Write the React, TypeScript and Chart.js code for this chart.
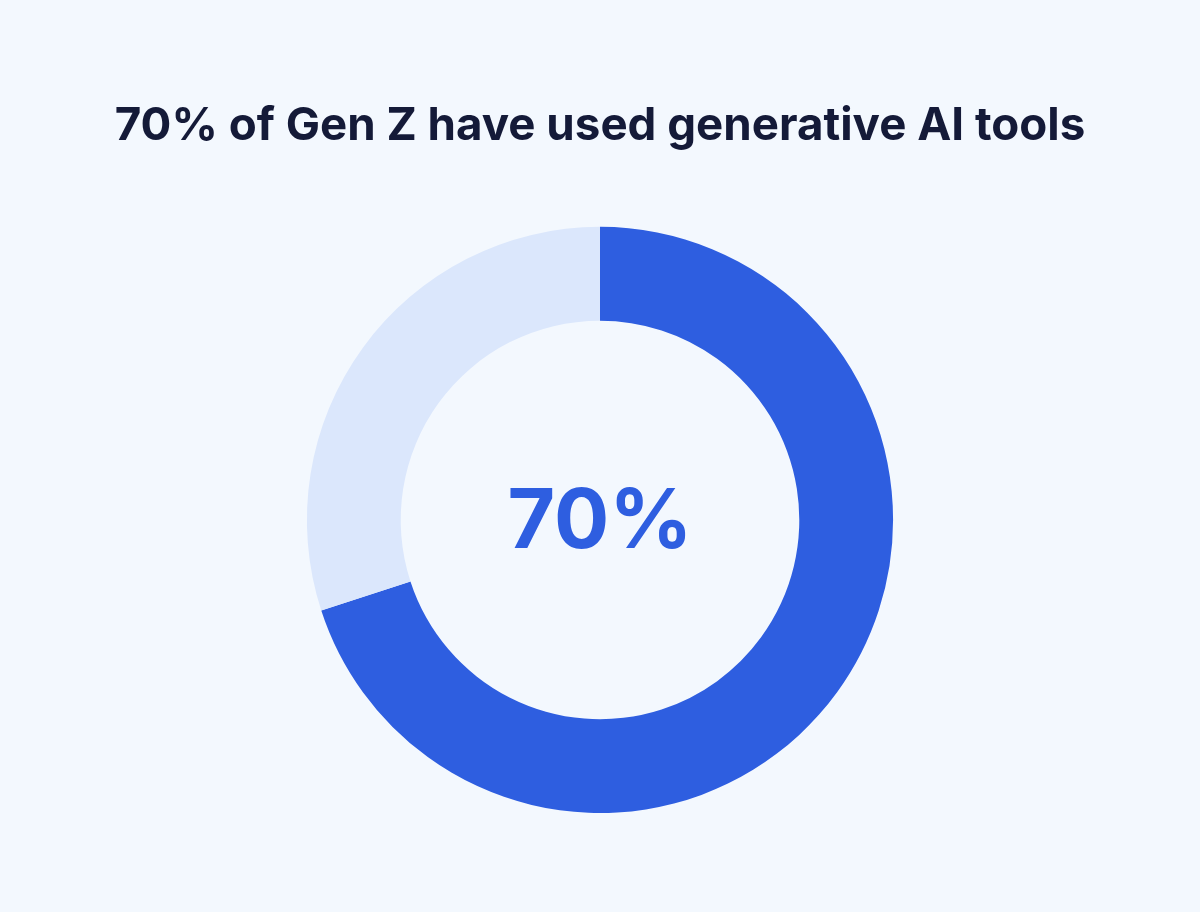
import React, { useEffect, useRef } from "react";
import { Chart, registerables } from "chart.js";

Chart.register(...registerables);

const titleText = "70% of Gen Z have used generative AI tools";
const labels = ["Have used generative AI", "Have not used"];
const values = [70, 30];
const colors = ["#2e5ee0", "#dbe7fc"];

const centerTextPlugin = {
  id: "centerText",
  afterDatasetsDraw(chart: any) {
    const meta = chart.getDatasetMeta(0);
    const arc = meta.data[0];
    if (!arc) return;
    const { x, y } = arc.getProps(["x", "y"], true);
    const ctx = chart.ctx;
    ctx.save();
    ctx.font = "700 82px Inter, 'Noto Sans', sans-serif";
    ctx.fillStyle = colors[0];
    ctx.textAlign = "center";
    ctx.textBaseline = "middle";
    ctx.fillText(`${chart.data.datasets[0].data[0]}%`, x, y + 3);
    ctx.restore();
  },
};

export default function App() {
  const ref = useRef<HTMLCanvasElement | null>(null);
  useEffect(() => {
    document.body.style.margin = "0";
    const ctx = ref.current!;
    const chart = new Chart(ctx, {
      type: "doughnut",
      data: {
        labels,
        datasets: [
          {
            data: values,
            backgroundColor: colors,
            borderWidth: 0,
          },
        ],
      },
      options: {
        responsive: true,
        maintainAspectRatio: false,
        animation: false,
        cutout: "68%",
        layout: { padding: { bottom: 99 } },
        plugins: {
          legend: { display: false },
          tooltip: { enabled: false },
          title: {
            display: true,
            text: titleText,
            color: "#141a38",
            font: { family: "Inter, 'Noto Sans', sans-serif", size: 45.7, weight: "bold" },
            padding: { top: 99, bottom: 73 },
          },
        },
      },
      plugins: [centerTextPlugin],
    });
    return () => chart.destroy();
  }, []);
  return (
    <div style={{ width: 1200, height: 912, background: "#f3f8fe", position: "relative" }}>
      <canvas ref={ref} />
    </div>
  );
}
